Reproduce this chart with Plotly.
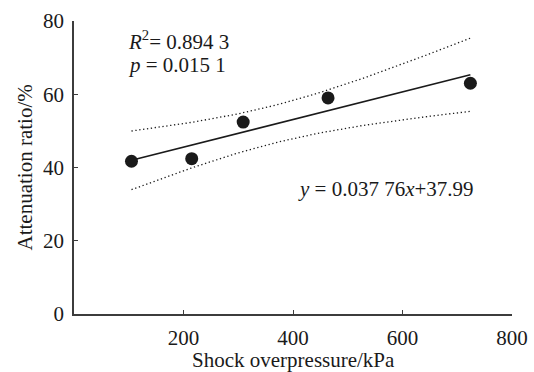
import numpy as np
import plotly.graph_objects as go

# Data
overpressure_kpa = [105, 215, 309, 464, 724]
attenuation_pct = [41.7, 42.4, 52.4, 59.0, 63.0]

# Regression reported on the chart
slope = 0.03776
intercept = 37.99
r2_text = "0.894 3"
p_text = "0.015 1"
t_crit = 3.182  # t(0.975, df=3)

x_ticks = [200, 400, 600, 800]
y_ticks = [0, 20, 40, 60, 80]
x_title = "Shock overpressure/kPa"
y_title = "Attenuation ratio/%"

xs = np.array(overpressure_kpa, dtype=float)
ys = np.array(attenuation_pct, dtype=float)
n = len(xs)
resid = ys - (slope * xs + intercept)
s = np.sqrt(np.sum(resid ** 2) / (n - 2))
xm = xs.mean()
sxx = np.sum((xs - xm) ** 2)
xg = np.linspace(xs.min(), xs.max(), 60)
fit = slope * xg + intercept
hw = t_crit * s * np.sqrt(1.0 / n + (xg - xm) ** 2 / sxx)

FONT = "Liberation Serif, Times New Roman, serif"
INK = "#1a1a1a"
AX = "#3c3c3c"

fig = go.Figure()
dot = dict(color=INK, width=1.3, dash="1.3px,2.6px")
fig.add_trace(go.Scatter(x=xg, y=fit + hw, mode="lines", line=dot, hoverinfo="skip"))
fig.add_trace(go.Scatter(x=xg, y=fit - hw, mode="lines", line=dot, hoverinfo="skip"))
fig.add_trace(go.Scatter(x=[xs.min(), xs.max()],
                         y=[slope * xs.min() + intercept, slope * xs.max() + intercept],
                         mode="lines", line=dict(color=INK, width=1.6)))
fig.add_trace(go.Scatter(x=overpressure_kpa, y=attenuation_pct, mode="markers",
                         marker=dict(size=13, color=INK)))

ann_font = dict(family=FONT, size=21, color=INK)
fig.add_annotation(x=95, y=74.7, xref="x", yref="y", xanchor="left", yanchor="middle",
                   text="<i>R</i><sup>2</sup>= " + r2_text, showarrow=False, font=ann_font)
fig.add_annotation(x=95, y=68.0, xref="x", yref="y", xanchor="left", yanchor="middle",
                   text="<i>p</i> = " + p_text, showarrow=False, font=ann_font)
fig.add_annotation(x=405, y=34.0, xref="x", yref="y", xanchor="left", yanchor="middle",
                   text="<i>y</i> = 0.037 76<i>x</i>+37.99", showarrow=False, font=ann_font)

# axis titles
fig.add_annotation(x=0.5, y=0, xref="paper", yref="paper", xanchor="center",
                   yanchor="middle", yshift=-46, text=x_title, showarrow=False,
                   font=ann_font)
fig.add_annotation(x=0, y=0.5, xref="paper", yref="paper", xanchor="center",
                   yanchor="middle", xshift=-50, textangle=-90, text=y_title,
                   showarrow=False, font=ann_font)

axis_common = dict(showgrid=False, zeroline=False, showline=True, linecolor=AX,
                   linewidth=1.5, ticks="inside", ticklen=4, tickwidth=1.2,
                   tickcolor=AX, automargin=False,
                   tickfont=dict(family=FONT, size=21, color=INK))
fig.update_xaxes(range=[0, 800], tickvals=x_ticks, ticklabelstandoff=4, **axis_common)
fig.update_yaxes(range=[0, 80], tickvals=y_ticks, ticklabelstandoff=4, **axis_common)

fig.update_layout(width=534, height=372, showlegend=False,
                  margin=dict(l=73.5, r=21.7, t=20.7, b=57.7, autoexpand=False),
                  paper_bgcolor="white", plot_bgcolor="white")
fig.write_html("out.html")
